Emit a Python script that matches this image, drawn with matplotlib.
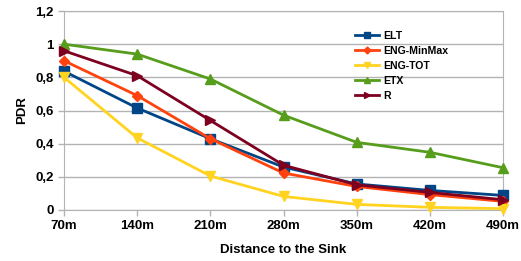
import matplotlib
matplotlib.use("Agg")
import matplotlib.pyplot as plt
from matplotlib.ticker import FuncFormatter

categories = ["70m", "140m", "210m", "280m", "350m", "420m", "490m"]
elt = [0.837, 0.615, 0.43, 0.259, 0.157, 0.118, 0.088]
eng_minmax = [0.90, 0.69, 0.43, 0.223, 0.142, 0.093, 0.052]
eng_tot = [0.80, 0.435, 0.205, 0.082, 0.034, 0.016, 0.008]
etx = [1.0, 0.94, 0.79, 0.572, 0.408, 0.348, 0.255]
r_vals = [0.96, 0.81, 0.54, 0.27, 0.152, 0.106, 0.062]
y_ticks = [0, 0.2, 0.4, 0.6, 0.8, 1.0, 1.2]

plt.rcParams['font.family'] = ['Liberation Sans', 'DejaVu Sans']
plt.rcParams['font.weight'] = 'bold'

fig = plt.figure(figsize=(5.21, 2.61), dpi=100)
ax = fig.add_axes([64/521, 1-210/261, (503-64)/521, (210-11)/261])

x = list(range(len(categories)))
series = [
    ("ELT", elt, "#004586", "s", 7),
    ("ENG-MinMax", eng_minmax, "#ff420e", "D", 5),
    ("ENG-TOT", eng_tot, "#ffd320", "v", 7),
    ("ETX", etx, "#579d1c", "^", 7),
    ("R", r_vals, "#7e0021", ">", 7),
]
for name, vals, col, mk, ms in series:
    ax.plot(x, vals, color=col, marker=mk, markersize=ms, linewidth=2, label=name, clip_on=False, zorder=3)

ax.set_xlim(0, len(categories)-1)
ax.set_ylim(0, 1.2)
ax.set_yticks(y_ticks)
ax.yaxis.set_major_formatter(FuncFormatter(lambda v, p: ("%g" % round(v, 1)).replace(".", ",")))
ax.set_xticks(x)
ax.set_xticklabels(categories)
ax.grid(axis='y', color='#b3b3b3', linewidth=1)
ax.set_axisbelow(True)
for s in ["top", "right", "left", "bottom"]:
    ax.spines[s].set_color('#b3b3b3')
ax.tick_params(axis='both', colors='#b3b3b3', labelcolor='black', labelsize=9.5, length=4, width=1)
ax.tick_params(axis='x', pad=3)
for lab in ax.get_xticklabels() + ax.get_yticklabels():
    lab.set_fontweight('bold')

ax.set_xlabel("Distance to the Sink", fontsize=9.5, fontweight='bold', labelpad=8.5)
ax.set_ylabel("PDR", fontsize=9.5, fontweight='bold', labelpad=5)

leg = ax.legend(loc='upper left', bbox_to_anchor=(0.663, 0.90), frameon=False, fontsize=7.6,
                handlelength=2.3, handletextpad=0.38, labelspacing=0.48, borderaxespad=0,
                borderpad=0, markerscale=0.7)
for t in leg.get_texts():
    t.set_fontweight('bold')

fig.savefig("out.png", dpi=100)
